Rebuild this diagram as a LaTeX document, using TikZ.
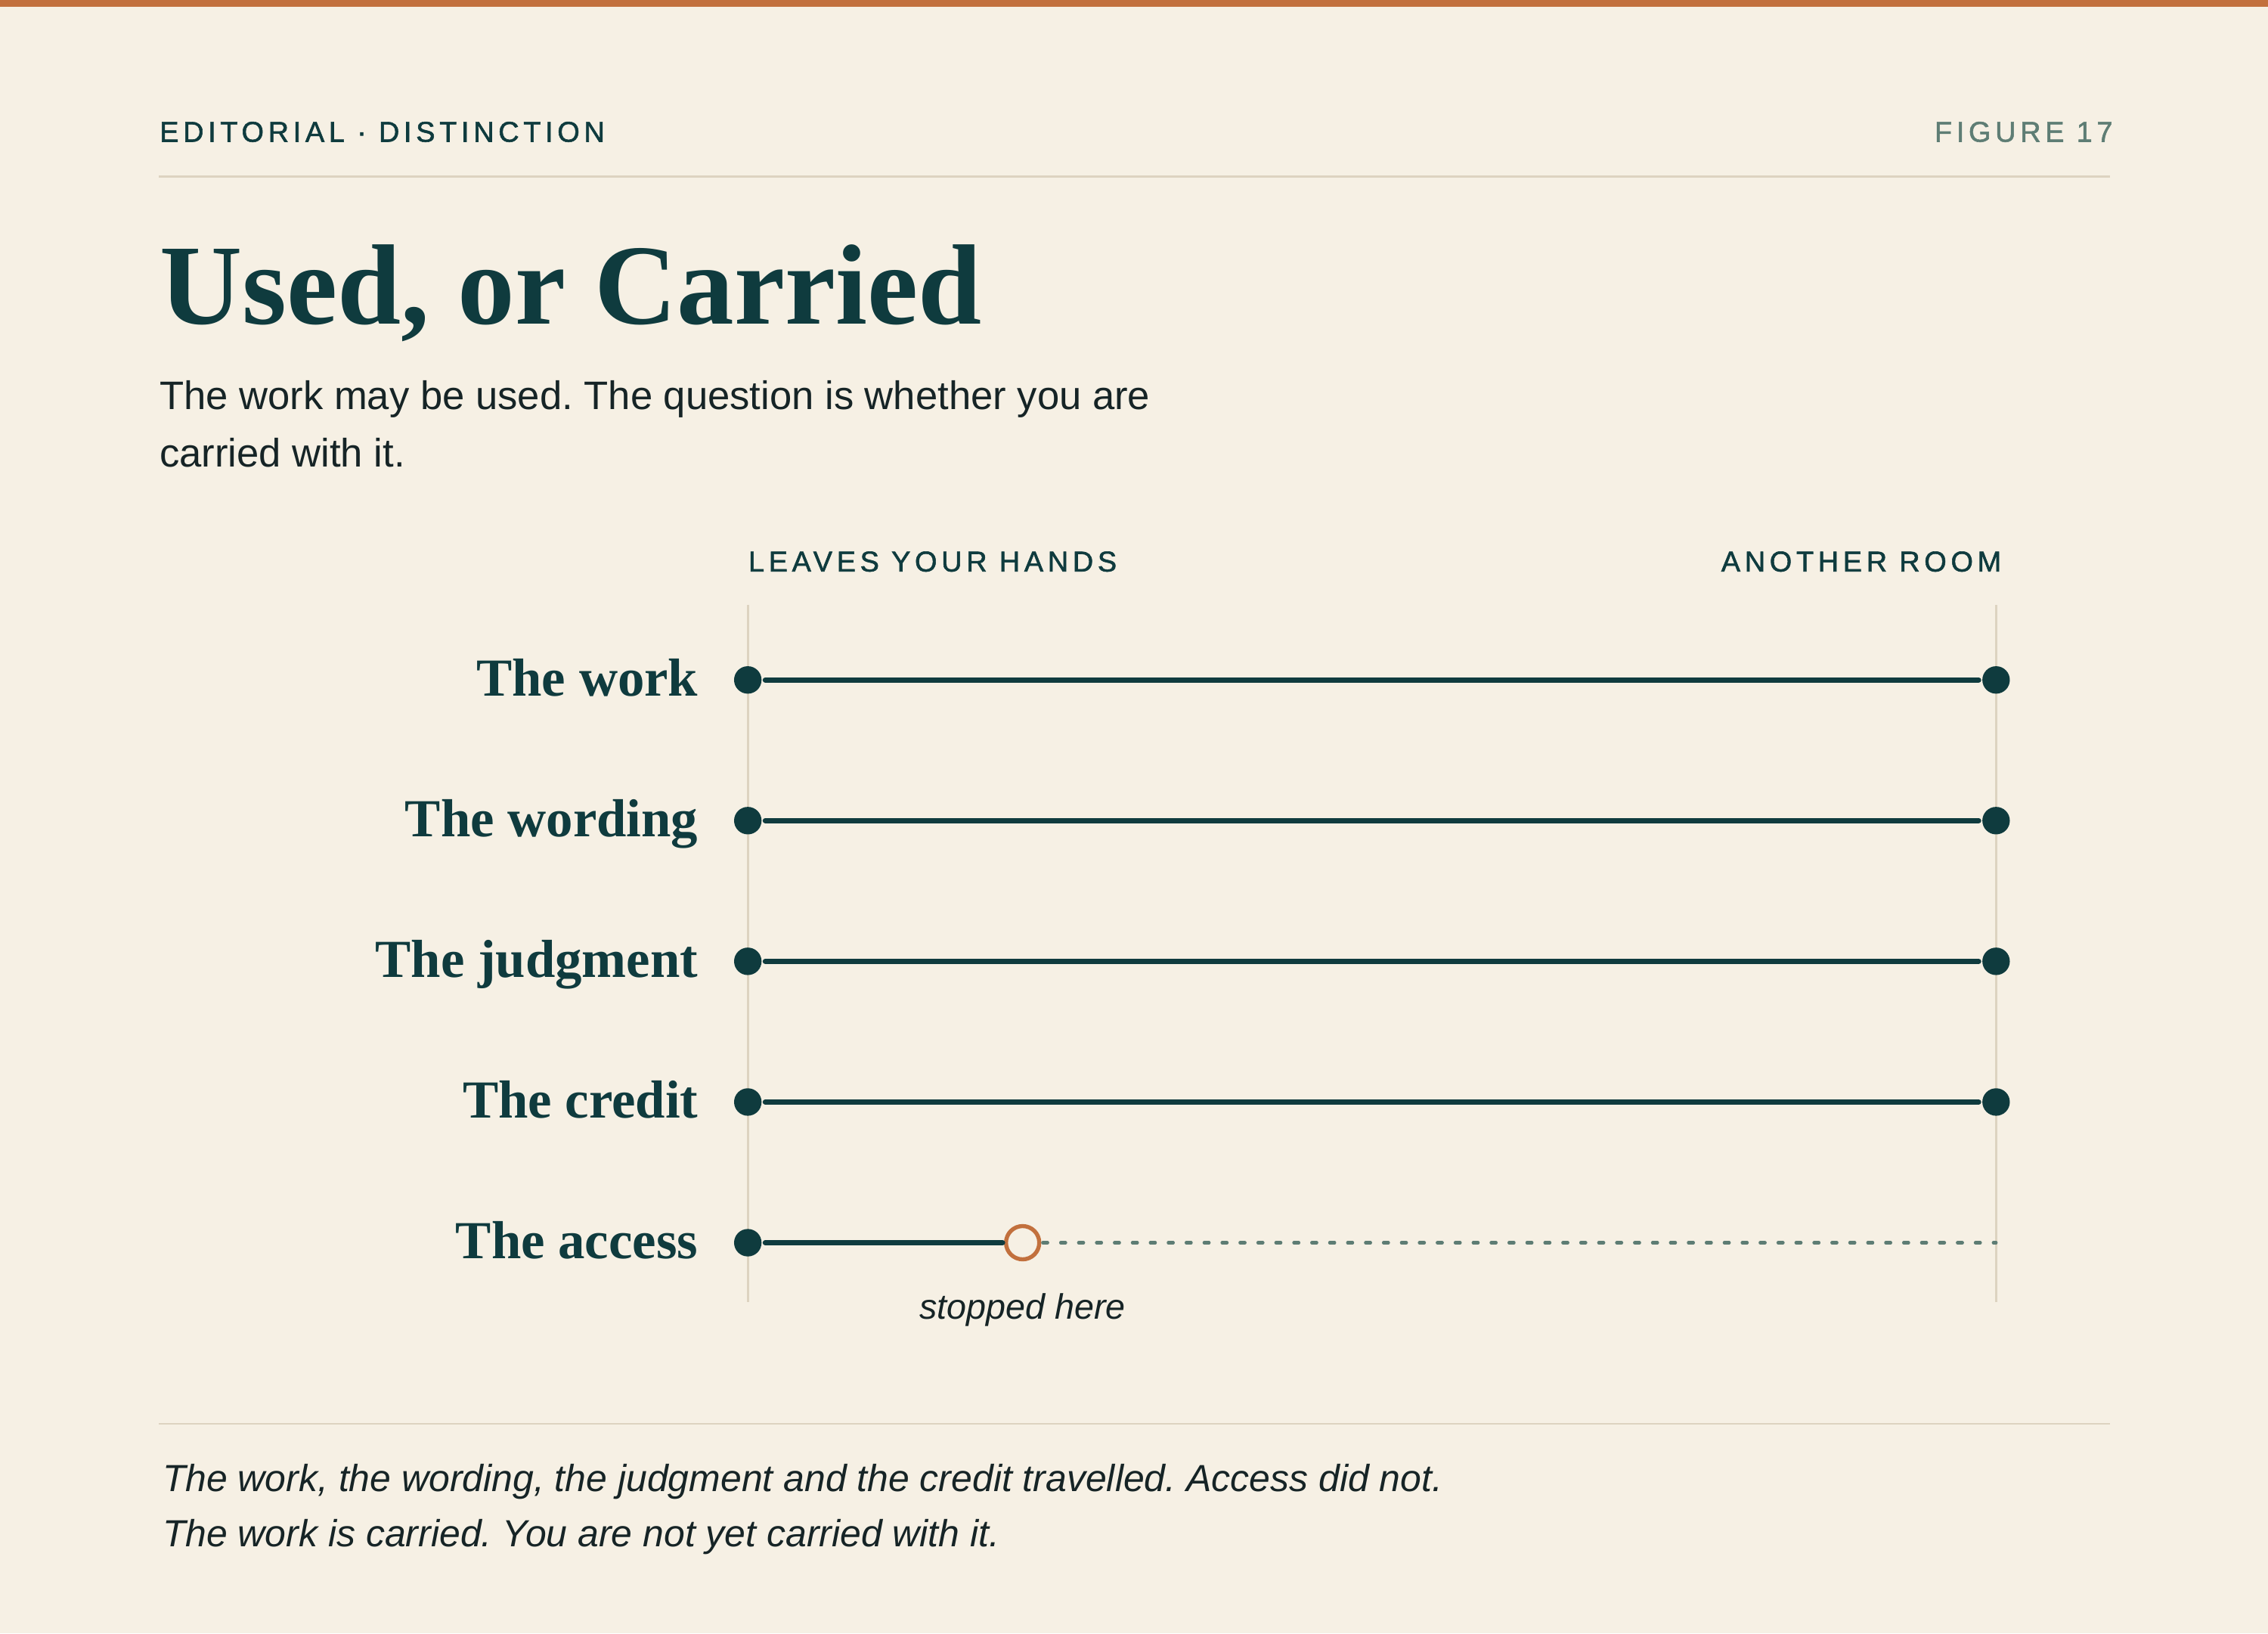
\documentclass[tikz,border=0pt]{standalone}
\usepackage{fontspec}
\setmainfont{Liberation Serif}
\setsansfont{Liberation Sans}
\newfontfamily\trackfont[LetterSpace=15,FakeBold=1.5]{Liberation Sans}
\frenchspacing

\definecolor{paper}{HTML}{F6F0E4}
\definecolor{rust}{HTML}{C2703D}
\definecolor{ink}{HTML}{0F3B3E}
\definecolor{muted}{HTML}{5E7D74}
\definecolor{rulecol}{HTML}{DDD3C0}
\definecolor{body}{HTML}{162426}

\tikzset{
  kicker/.style={font=\trackfont\fontsize{9.9}{12}\selectfont, inner sep=0pt},
  rowlabel/.style={font=\fontsize{18.5}{22}\selectfont\bfseries, text=ink, anchor=base east, inner sep=0pt},
  dot/.style={circle, fill=ink, inner sep=0pt, minimum size=9.5pt, outer sep=1.3pt},
  stopdot/.style={circle, draw=rust, line width=1.4pt, fill=paper, inner sep=0pt, minimum size=11.5pt, outer sep=1.2pt},
  track/.style={draw=ink, line width=1.85pt, line cap=round},
  rest/.style={draw=muted, line width=1.1pt, line cap=round, dash pattern=on 1.7pt off 4.5pt},
  guide/.style={draw=rulecol, line width=0.7pt},
}

\begin{document}
\begin{tikzpicture}[x=0.5pt,y=-0.5pt]
% Page
\fill[paper] (0,0) rectangle (1568,1129);
\useasboundingbox (0,0) rectangle (1568,1129);
\fill[rust] (0,0) rectangle (1568,4.7);

% Header
\node[kicker, text=ink, anchor=base west] (kick) at (110,98) {EDITORIAL · DISTINCTION};
\node[kicker, text=muted, anchor=base east] (fig) at (1461,98) {FIGURE 17};
\draw[rulecol, line width=0.6pt] (110,122) -- (1459,122);

% Title
\node[font=\fontsize{39.5}{44}\selectfont\bfseries, text=ink, anchor=base west, inner sep=0pt] (title) at (110,224) {Used, or Carried};
\node[font=\sffamily\fontsize{13.75}{20}\selectfont, text=body, anchor=base west, inner sep=0pt] (sub1) at (110,283) {The work may be used. The question is whether you are};
\node[font=\sffamily\fontsize{13.75}{20}\selectfont, text=body, anchor=base west, inner sep=0pt] (sub2) at (110,323) {carried with it.};

% Column heads and guides
\node[kicker, text=ink, anchor=base west] (lefthead) at (517,395) {LEAVES YOUR HANDS};
\node[kicker, text=ink, anchor=base east] (righthead) at (1384,395) {ANOTHER ROOM};
\coordinate (gl1) at (517,418);
\coordinate (gl2) at (517,900);
\coordinate (gr1) at (1380,418);
\coordinate (gr2) at (1380,900);
\draw[guide] (gl1) -- (gl2);
\draw[guide] (gr1) -- (gr2);

% Rows that travelled
\foreach \i/\txt in {1/The work,2/The wording,3/The judgment,4/The credit}{
  \node[rowlabel] (lab\i) at (483,470+97.25*\i-97.25+11) {\txt};
  \node[dot] (l\i) at (517,470+97.25*\i-97.25) {};
  \node[dot] (r\i) at (1380,470+97.25*\i-97.25) {};
  \draw[track] (l\i) -- (r\i);
}

% Row that stopped
\node[rowlabel] (lab5) at (483,870) {The access};
\node[dot] (l5) at (517,859) {};
\node[stopdot] (stop) at (707,859) {};
\coordinate (end5) at (1380,859);
\draw[track] (l5) -- (stop);
\draw[rest] (stop) -- (end5);
\node[font=\sffamily\itshape\fontsize{12.2}{14}\selectfont, text=body, anchor=base, inner sep=0pt] (note) at (707,912) {stopped here};

% Footer
\draw[rulecol, line width=0.6pt] (110,984) -- (1459,984);
\node[font=\sffamily\itshape\fontsize{13.05}{19}\selectfont, text=body, anchor=base west, inner sep=0pt] (cap1) at (112,1031) {The work, the wording, the judgment and the credit travelled. Access did not.};
\node[font=\sffamily\itshape\fontsize{13.05}{19}\selectfont, text=body, anchor=base west, inner sep=0pt] (cap2) at (112,1069) {The work is carried. You are not yet carried with it.};
\end{tikzpicture}
\end{document}
